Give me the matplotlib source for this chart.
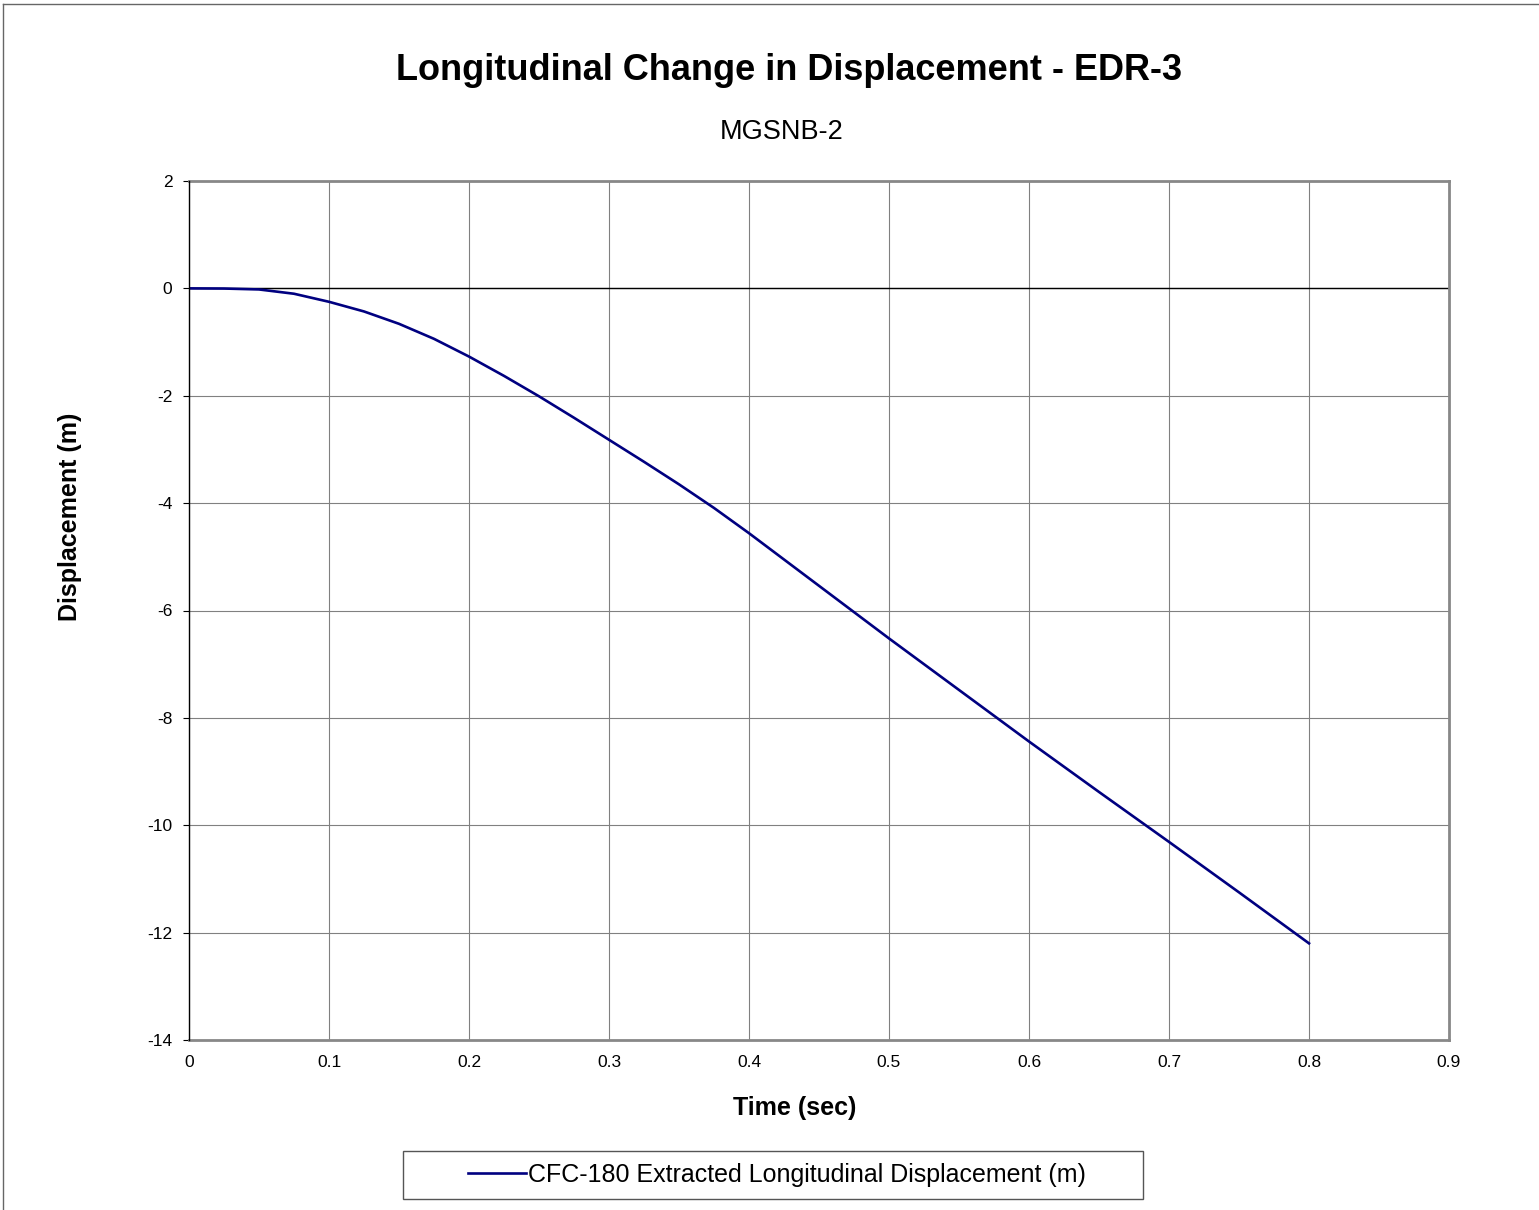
import matplotlib
matplotlib.use("Agg")
import matplotlib.pyplot as plt
from matplotlib.patches import Rectangle
from matplotlib.lines import Line2D

plt.rcParams['font.family'] = ['Liberation Sans', 'DejaVu Sans']

# Data
time_s = [0.0, 0.025, 0.05, 0.075, 0.1, 0.125, 0.15, 0.175, 0.2, 0.225, 0.25, 0.275,
          0.3, 0.325, 0.35, 0.375, 0.4, 0.425, 0.45, 0.475, 0.5, 0.55, 0.6, 0.65,
          0.7, 0.75, 0.8]
displacement_m = [0.0, -0.003, -0.02, -0.10, -0.25, -0.43, -0.66, -0.94, -1.27, -1.63, -2.01, -2.41,
                  -2.82, -3.23, -3.65, -4.09, -4.56, -5.05, -5.54, -6.03, -6.52, -7.48, -8.44, -9.38,
                  -10.31, -11.25, -12.2]
x_ticks = [0, 0.1, 0.2, 0.3, 0.4, 0.5, 0.6, 0.7, 0.8, 0.9]
x_tick_labels = ["0", "0.1", "0.2", "0.3", "0.4", "0.5", "0.6", "0.7", "0.8", "0.9"]
y_ticks = [2, 0, -2, -4, -6, -8, -10, -12, -14]
y_tick_labels = ["2", "0", "-2", "-4", "-6", "-8", "-10", "-12", "-14"]
series_name = "CFC-180 Extracted Longitudinal Displacement (m)"
title = "Longitudinal Change in Displacement - EDR-3"
subtitle = "MGSNB-2"
x_label = "Time (sec)"
y_label = "Displacement (m)"

W, H = 1539, 1210
fig = plt.figure(figsize=(W / 100, H / 100), dpi=100)
fig.patch.set_facecolor('white')

def fx(px):
    return px / W

def fy(py):
    return 1 - py / H

ax = fig.add_axes([fx(189), fy(1040), fx(1449) - fx(189), fy(181) - fy(1040)])
ax.set_xlim(0, 0.9)
ax.set_ylim(-14, 2)

ax.grid(True, color='#808080', linewidth=0.8)
ax.set_axisbelow(True)
ax.axhline(0, color='black', linewidth=1.0, zorder=2)

ax.plot(time_s, displacement_m, color='#000080', linewidth=1.9, zorder=3)

ax.set_xticks(x_ticks)
ax.set_xticklabels(x_tick_labels)
ax.set_yticks(y_ticks)
ax.set_yticklabels(y_tick_labels)
ax.tick_params(axis='x', length=0, pad=11, labelsize=12.5)
ax.tick_params(axis='y', length=4, width=0.8, direction='out', pad=8, labelsize=12.5,
               color='black')

for side in ['top', 'right', 'bottom']:
    ax.spines[side].set_color('#888888')
    ax.spines[side].set_linewidth(2.0)
ax.spines['left'].set_color('black')
ax.spines['left'].set_linewidth(1.0)
ax.spines['left'].set_zorder(4)

fig.text(fx(789), fy(70), title, ha='center', va='center', fontsize=26, fontweight='bold')
fig.text(fx(782), fy(132), subtitle, ha='center', va='center', fontsize=19.5)
fig.text(fx(795), fy(1108), x_label, ha='center', va='center', fontsize=18, fontweight='bold')
fig.text(fx(70), fy(517), y_label, ha='center', va='center', fontsize=18, fontweight='bold',
         rotation=90)

# legend box
fig.patches.append(Rectangle((fx(403), fy(1199)), fx(1143) - fx(403), fy(1151) - fy(1199),
                             transform=fig.transFigure, facecolor='white',
                             edgecolor='#555555', linewidth=1.0))
handle = Line2D([], [], color='#000080', linewidth=1.9)
fig.legend([handle], [series_name], loc='center', bbox_to_anchor=(fx(777), fy(1175)),
           frameon=False, fontsize=18, handlelength=2.3, handletextpad=0.1)

# outer chart border (left and top edges visible)
fig.add_artist(Line2D([fx(3), fx(3)], [fy(4), 0], transform=fig.transFigure,
                      color='#666666', linewidth=1.0))
fig.add_artist(Line2D([fx(3), 1], [fy(4), fy(4)], transform=fig.transFigure,
                      color='#666666', linewidth=1.0))

fig.savefig("out.png", dpi=100, facecolor='white')
